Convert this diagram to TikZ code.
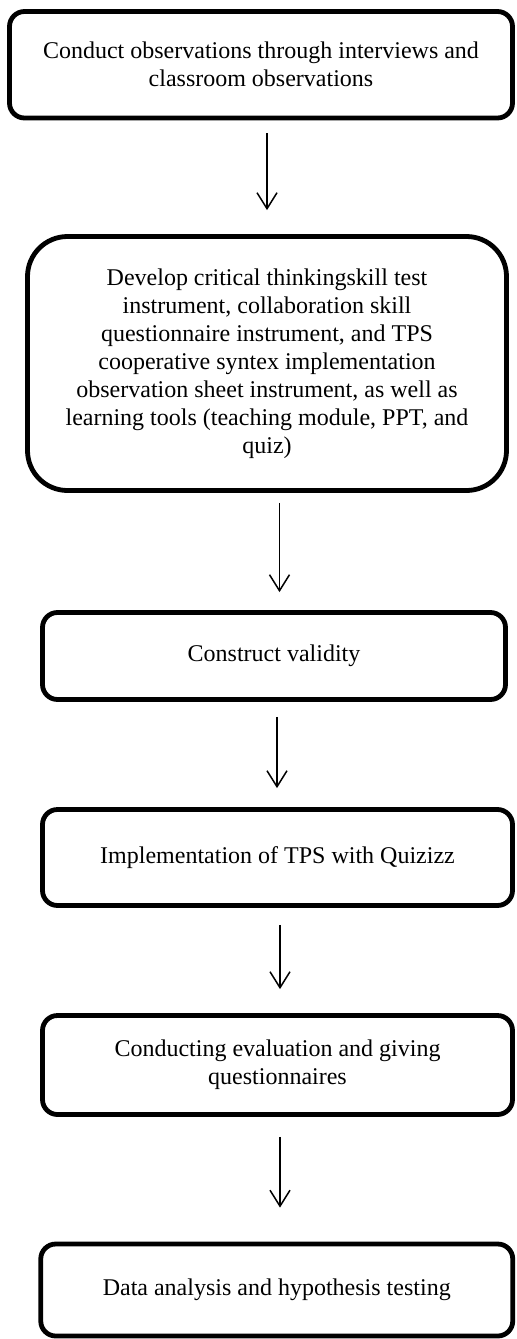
\documentclass[tikz,border=0pt]{standalone}
\usepackage{fontspec}
\setmainfont{Liberation Serif}
\usetikzlibrary{arrows.meta}
\tikzset{
  stepbox/.style={draw=black, line width=2.4pt, fill=white, inner sep=0pt,
    align=center, font=\fontsize{12}{14}\selectfont, text=black},
  flowarrow/.style={draw=black, line width=0.75pt, -{Straight Barb[length=8pt,width=10pt,line width=0.75pt]}}
}
\begin{document}
\begin{tikzpicture}[x=0.5pt, y=-0.5pt]
\useasboundingbox (0,0) rectangle (516,1339);
\node[stepbox, rounded corners=7.5pt, minimum width=251.5pt, minimum height=53.25pt] (b1) at (261,64.75)
  {Conduct observations through interviews and\\classroom observations};
\node[stepbox, rounded corners=20pt, minimum width=239.5pt, minimum height=127pt] (b2) at (267,363.5)
  {Develop critical thinkingskill test\\instrument, collaboration skill\\questionnaire instrument, and TPS\\cooperative syntex implementation\\observation sheet instrument, as well as\\learning tools (teaching module, PPT, and\\quiz)};
\node[stepbox, rounded corners=7.5pt, minimum width=231.5pt, minimum height=43.5pt] (b3) at (274,656)
  {Construct validity};
\node[stepbox, rounded corners=7.5pt, minimum width=235pt, minimum height=48pt] (b4) at (277.5,857.5)
  {Implementation of TPS with Quizizz};
\node[stepbox, rounded corners=7.5pt, minimum width=235pt, minimum height=49.5pt] (b5) at (277.5,1065)
  {Conducting evaluation and giving\\questionnaires};
\node[stepbox, rounded corners=7.5pt, minimum width=236pt, minimum height=46pt] (b6) at (276.75,1290)
  {Data analysis and hypothesis testing};
\draw[flowarrow, shorten <=6.5pt, shorten >=12pt] (b1.south -| 267,0) -- (b2.north -| 267,0);
\draw[flowarrow, shorten <=5pt, shorten >=9pt] (b2.south -| 279.5,0) -- (b3.north -| 279.5,0);
\draw[flowarrow, shorten <=7.5pt, shorten >=9.5pt] (b3.south -| 277,0) -- (b4.north -| 277,0);
\draw[flowarrow, shorten <=8.5pt, shorten >=12pt] (b4.south -| 280,0) -- (b5.north -| 280,0);
\draw[flowarrow, shorten <=10pt, shorten >=17pt] (b5.south -| 280,0) -- (b6.north -| 280,0);
\end{tikzpicture}
\end{document}
